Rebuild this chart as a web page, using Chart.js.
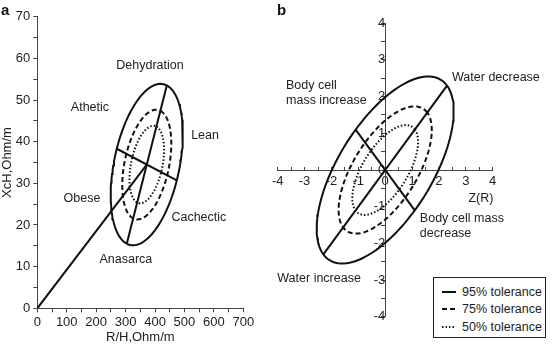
<!DOCTYPE html>
<html>
<head>
<meta charset="utf-8">
<script src="https://cdn.jsdelivr.net/npm/chart.js@4.4.1/dist/chart.umd.min.js"></script>
<style>
body { margin: 0; background: #fff; font-family: "Liberation Sans", Arial, sans-serif; }
#wrap { position: relative; width: 552px; height: 345px; overflow: hidden; }
canvas { position: absolute; top: 0; }
#chartA { left: 0; }
#chartB { left: 266px; }
.lbl { position: absolute; font-size: 12.5px; color: #222; white-space: nowrap; line-height: 15px; }
.panel { position: absolute; top: 1px; font-weight: bold; font-size: 15px; color: #111; }
#legend { position: absolute; left: 433px; top: 277px; width: 113px; height: 61px; border: 1px solid #222; background: #fff; padding-top: 5px; box-sizing: border-box; }
#legend .row { height: 17.5px; font-size: 12.5px; color: #222; display: flex; align-items: center; padding-left: 8px; }
#legend svg { margin-right: 6px; }
</style>
</head>
<body>
<div id="wrap">
  <canvas id="chartA" width="276" height="345"></canvas>
  <canvas id="chartB" width="286" height="345"></canvas>
  <div class="panel" style="left:1px">a</div>
  <div class="panel" style="left:277px">b</div>
  <div id="legend"></div>
</div>
<script>
// tolerance ellipses (same for both panels)
const tolerances = ['95% tolerance', '75% tolerance', '50% tolerance'];
const ellipseScale = [1, 0.68, 0.48];

// panel a : R/H vs XcH, ellipse
const aCenter = [372, 34.5];
const aMajor = [68, 19];      // half of the long drawn axis
const aMinor = [102, -3.8];   // half of the short drawn axis
const aOrigin = [0, 0];
const aXLabels = [0, 100, 200, 300, 400, 500, 600, 700];
const aYLabels = [0, 10, 20, 30, 40, 50, 60, 70];

// panel b : Z scores
const bCenter = [0, 0];
const bMajor = [2.3, 2.3];
const bMinor = [-1.1, 1.1];
const bLabels = [-4, -3, -2, -1, 0, 1, 2, 3, 4];

const notesA = [
  ['Dehydration', 383, 58.4],
  ['Athetic', 179, 48.3],
  ['Lean', 570, 41.6],
  ['Obese', 152, 26.5],
  ['Cachectic', 549, 21.9],
  ['Anasarca', 301, 11.8]
];
const notesB = [
  ['Body cell<br>mass increase', -3.69, 2.11, 'left'],
  ['Water decrease', 4.12, 2.53, 'center'],
  ['Body cell mass<br>decrease', 1.29, -1.53, 'left'],
  ['Water increase', -2.46, -2.94, 'center'],
  ['Z(R)', 3.56, -0.76, 'center']
];

const ink = '#111';
const dashes = [[], [5, 3], [1.5, 2]];

function ellipse(c, u, v, k) {
  const pts = [];
  for (let i = 0; i <= 120; i++) {
    const t = i / 120 * 2 * Math.PI;
    pts.push({ x: c[0] + k * (u[0] * Math.cos(t) + v[0] * Math.sin(t)),
               y: c[1] + k * (u[1] * Math.cos(t) + v[1] * Math.sin(t)) });
  }
  return pts;
}

function segment(c, d) {
  return [{ x: c[0] - d[0], y: c[1] - d[1] }, { x: c[0] + d[0], y: c[1] + d[1] }];
}

function line(data, dash) {
  return { data: data, showLine: true, pointRadius: 0, borderColor: ink, borderWidth: 2,
           borderDash: dash || [], fill: false, tension: 0 };
}

function datasetsFor(c, u, v) {
  const ds = ellipseScale.map((k, i) => line(ellipse(c, u, v, k), dashes[i]));
  ds.push(line(segment(c, u)));
  ds.push(line(segment(c, v)));
  return ds;
}

const dsA = datasetsFor(aCenter, aMajor, aMinor);
dsA.push(line([{ x: aOrigin[0], y: aOrigin[1] }, { x: aCenter[0], y: aCenter[1] }]));

const tickFont = { family: '"Liberation Sans", Arial, sans-serif', size: 13 };

const chartA = new Chart(document.getElementById('chartA'), {
  type: 'scatter',
  data: { datasets: dsA },
  options: {
    responsive: false,
    animation: false,
    layout: { padding: { top: 16.7, right: 32.7, left: 0, bottom: 0 } },
    plugins: { legend: { display: false }, tooltip: { enabled: false } },
    scales: {
      x: {
        type: 'linear', min: 0, max: 700,
        afterFit: s => { s.height = 36.7; },
        grid: { drawOnChartArea: false, tickLength: 4, color: '#444' },
        border: { color: '#444', width: 1 },
        ticks: { stepSize: 50, autoSkip: false, maxRotation: 0, padding: 2, color: '#222', font: tickFont,
                 callback: v => aXLabels.includes(v) ? String(v) : '' },
        title: { display: true, text: 'R/H,Ohm/m', color: '#222', font: tickFont, padding: 0 }
      },
      y: {
        type: 'linear', min: 0, max: 70,
        afterFit: s => { s.width = 37.3; },
        grid: { drawOnChartArea: false, tickLength: 4, color: '#444' },
        border: { color: '#444', width: 1 },
        ticks: { stepSize: 5, autoSkip: false, padding: 3, color: '#222', font: tickFont,
                 callback: v => aYLabels.includes(v) ? String(v) : '' },
        title: { display: true, text: 'XcH,Ohm/m', color: '#222', font: tickFont, padding: { top: 0, bottom: 0 } }
      }
    }
  }
});

const chartB = new Chart(document.getElementById('chartB'), {
  type: 'scatter',
  data: { datasets: datasetsFor(bCenter, bMajor, bMinor) },
  options: {
    responsive: false,
    animation: false,
    layout: { padding: { top: 23.2, right: 59.3, left: 11.7, bottom: 28.2 } },
    plugins: { legend: { display: false }, tooltip: { enabled: false } },
    scales: {
      x: {
        type: 'linear', min: -4, max: 4, position: { y: 0 },
        afterFit: s => { s.paddingLeft = 0; s.paddingRight = 0; s.paddingTop = 0; s.paddingBottom = 0; },
        grid: { drawOnChartArea: false, tickLength: -4, color: '#444' },
        border: { color: '#444', width: 1 },
        ticks: { stepSize: 0.5, autoSkip: false, maxRotation: 0, padding: 8, color: '#222', font: tickFont,
                 callback: v => bLabels.includes(v) ? String(v) : '' }
      },
      y: {
        type: 'linear', min: -4, max: 4, position: { x: 0 },
        afterFit: s => { s.paddingLeft = 0; s.paddingRight = 0; s.paddingTop = 0; s.paddingBottom = 0; },
        grid: { drawOnChartArea: false, tickLength: 4, color: '#444' },
        border: { color: '#444', width: 1 },
        ticks: { stepSize: 0.5, autoSkip: false, padding: 2, color: '#222', font: tickFont,
                 callback: v => bLabels.includes(v) ? String(v) : '' }
      }
    }
  }
});

// annotations placed through the chart scales
const wrap = document.getElementById('wrap');
function place(chart, offsetX, notes) {
  notes.forEach(n => {
    const el = document.createElement('div');
    el.className = 'lbl';
    el.innerHTML = n[0];
    const px = chart.scales.x.getPixelForValue(n[1]) + offsetX;
    const py = chart.scales.y.getPixelForValue(n[2]);
    el.style.left = px + 'px';
    el.style.top = py + 'px';
    el.style.transform = n[3] === 'left' ? 'translate(0,-50%)' : 'translate(-50%,-50%)';
    wrap.appendChild(el);
  });
}
place(chartA, 0, notesA.map(n => n.concat('center')));
place(chartB, 266, notesB);

// legend box
const legend = document.getElementById('legend');
tolerances.forEach((t, i) => {
  const row = document.createElement('div');
  row.className = 'row';
  row.innerHTML = '<svg width="14" height="4"><line x1="0" y1="2" x2="14" y2="2" stroke="' + ink +
    '" stroke-width="2" stroke-dasharray="' + (dashes[i].join(',') || 'none') + '"/></svg>' + t;
  legend.appendChild(row);
});
</script>
</body>
</html>
